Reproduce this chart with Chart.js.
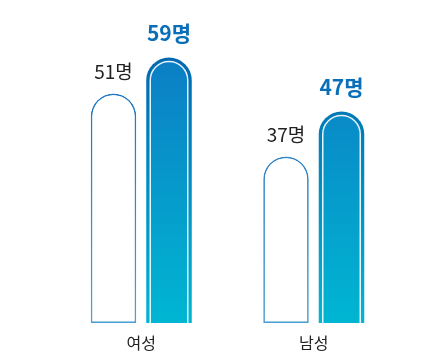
<!DOCTYPE html>
<html>
<head>
<meta charset="utf-8">
<script src="https://cdn.jsdelivr.net/npm/chart.js@4"></script>
<style>
    html, body { margin: 0; padding: 0; background: #fff; }
    #wrap { width: 440px; height: 358px; }
</style>
</head>
<body>
<div id="wrap"><canvas id="chart"></canvas></div>
<script>
const categories = ['여성', '남성'];
const firstValues = [51, 37];
const secondValues = [59, 47];
const unit = '명';

const FONT = "'Noto Sans CJK KR', 'Noto Sans', sans-serif";

function blueGradient(ctx, area, top, bottom) {
    const g = ctx.createLinearGradient(0, area.top + 40, 0, area.bottom);
    g.addColorStop(0, top);
    g.addColorStop(1, bottom);
    return g;
}

// inner white line + lighter core on the filled bars
const innerLine = {
    id: 'innerLine',
    afterDatasetsDraw(chart) {
        const ctx = chart.ctx;
        const meta = chart.getDatasetMeta(1);
        const inset = 4;
        meta.data.forEach(el => {
            const { x, y, base, width } = el.getProps(['x', 'y', 'base', 'width'], true);
            const left = x - width / 2 + inset;
            const right = x + width / 2 - inset;
            const r = width / 2 - inset;
            const top = y + inset;
            ctx.save();
            ctx.beginPath();
            ctx.moveTo(left, base);
            ctx.lineTo(left, top + r);
            ctx.arc(x, top + r, r, Math.PI, 0);
            ctx.lineTo(right, base);
            ctx.fillStyle = blueGradient(ctx, chart.chartArea, '#0c7cc4', '#00b6d2');
            ctx.fill();
            ctx.strokeStyle = 'rgba(255,255,255,0.9)';
            ctx.lineWidth = 1.5;
            ctx.stroke();
            ctx.restore();
        });
    }
};

const valueLabels = {
    id: 'valueLabels',
    afterDatasetsDraw(chart) {
        const ctx = chart.ctx;
        ctx.save();
        ctx.textAlign = 'center';
        ctx.textBaseline = 'middle';
        chart.data.datasets.forEach((ds, i) => {
            const meta = chart.getDatasetMeta(i);
            meta.data.forEach((el, j) => {
                if (i === 1) {
                    ctx.font = 'bold 21px ' + FONT;
                    ctx.fillStyle = '#0a6fb8';
                    ctx.fillText(ds.data[j] + unit, el.x, el.y - 24);
                } else {
                    ctx.font = '19px ' + FONT;
                    ctx.fillStyle = '#222';
                    ctx.fillText(ds.data[j] + unit, el.x, el.y - 22);
                }
            });
        });
        ctx.restore();
    }
};

new Chart(document.getElementById('chart'), {
    type: 'bar',
    data: {
        labels: categories,
        datasets: [{
            data: firstValues,
            backgroundColor: '#fff',
            borderColor: (c) => {
                const area = c.chart.chartArea;
                if (!area) return '#2a7cc2';
                return blueGradient(c.chart.ctx, area, '#1670bf', '#4f9fd4');
            },
            borderWidth: 1.7,
            borderSkipped: false,
            borderRadius: { topLeft: 100, topRight: 100, bottomLeft: 0, bottomRight: 0 },
            categoryPercentage: 0.6435,
            barPercentage: 0.82
        }, {
            data: secondValues,
            backgroundColor: (c) => {
                const area = c.chart.chartArea;
                if (!area) return '#0a7cc4';
                return blueGradient(c.chart.ctx, area, '#0066b0', '#00b6d2');
            },
            borderWidth: 0,
            borderRadius: { topLeft: 100, topRight: 100 },
            categoryPercentage: 0.6435,
            barPercentage: 0.82
        }]
    },
    options: {
        responsive: true,
        maintainAspectRatio: false,
        animation: false,
        layout: { padding: { left: 55, right: 40, top: 8, bottom: 0 } },
        plugins: { legend: { display: false }, tooltip: { enabled: false } },
        scales: {
            x: {
                grid: { display: false, drawTicks: false },
                border: { display: false },
                ticks: { color: '#222', font: { family: FONT, size: 16 }, padding: 10 },
                afterFit(scale) { scale.height = 35; }
            },
            y: {
                display: false,
                min: 0,
                max: 70
            }
        }
    },
    plugins: [innerLine, valueLabels]
});
</script>
</body>
</html>
